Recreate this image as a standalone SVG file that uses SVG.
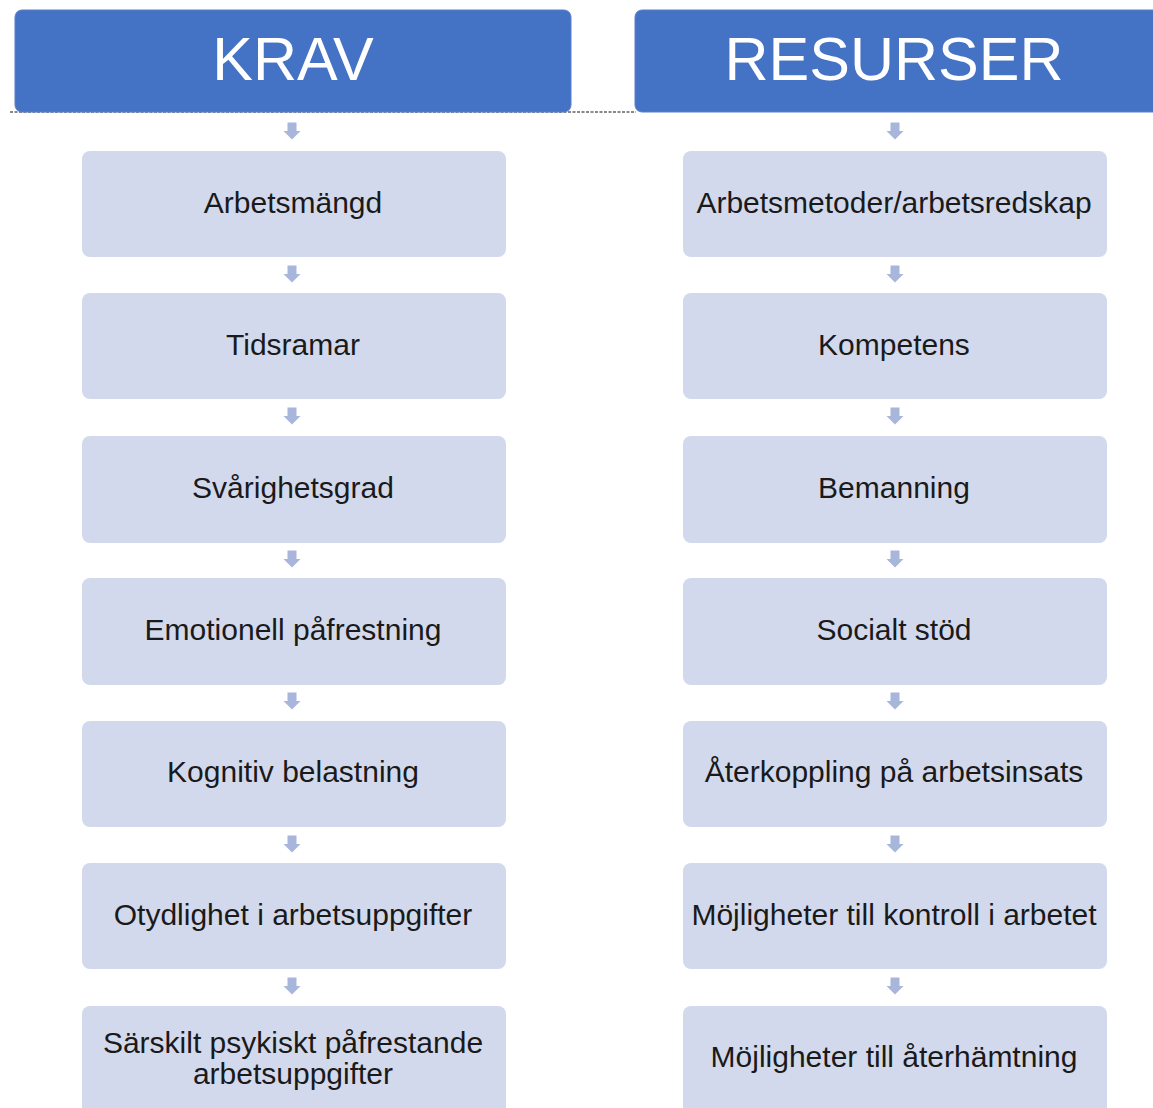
<svg xmlns="http://www.w3.org/2000/svg" width="1153" height="1108" viewBox="0 0 1153 1108">
<style>
.hdr{fill:#4472c4;stroke:#5b7fcb;stroke-width:1}
.hdrt{font-family:"Liberation Sans",Arial,sans-serif;font-size:61px;fill:#fff;text-anchor:middle}
.box{fill:#d3d9ec}
.t{font-family:"Liberation Sans",Arial,sans-serif;font-size:30px;fill:#1a1a1a;text-anchor:middle}
.arr{fill:#a9b6dc}
</style>
<defs>
<path id="a" d="M-4.5,-8.5 H4.5 V0 H8.5 L0,8.5 L-8.5,0 H-4.5 Z"/>
</defs>
<rect width="1153" height="1108" fill="#fff"/>
<g id="connectors">
<line x1="10" y1="112" x2="636" y2="112" stroke="#888" stroke-width="2" stroke-dasharray="3,1.5"/>
<g class="arr">
<use href="#a" x="292" y="131"/><use href="#a" x="292" y="274"/><use href="#a" x="292" y="416"/><use href="#a" x="292" y="559"/><use href="#a" x="292" y="701"/><use href="#a" x="292" y="844"/><use href="#a" x="292" y="986"/>
<use href="#a" x="895" y="131"/><use href="#a" x="895" y="274"/><use href="#a" x="895" y="416"/><use href="#a" x="895" y="559"/><use href="#a" x="895" y="701"/><use href="#a" x="895" y="844"/><use href="#a" x="895" y="986"/>
</g>
</g>
<g id="krav"><rect class="hdr" x="15" y="10" width="556" height="102" rx="7"/><text class="hdrt" x="293" y="80">KRAV</text></g>
<g id="resurser"><rect class="hdr" x="635" y="10" width="530" height="102" rx="7"/><text class="hdrt" x="894" y="80">RESURSER</text></g>
<g id="k1"><rect class="box" x="82" y="151" width="424" height="106" rx="8"/><text class="t" x="293" y="213">Arbetsmängd</text></g>
<g id="k2"><rect class="box" x="82" y="293" width="424" height="106" rx="8"/><text class="t" x="293" y="355">Tidsramar</text></g>
<g id="k3"><rect class="box" x="82" y="436" width="424" height="107" rx="8"/><text class="t" x="293" y="498">Svårighetsgrad</text></g>
<g id="k4"><rect class="box" x="82" y="578" width="424" height="107" rx="8"/><text class="t" x="293" y="640">Emotionell påfrestning</text></g>
<g id="k5"><rect class="box" x="82" y="721" width="424" height="106" rx="8"/><text class="t" x="293" y="782">Kognitiv belastning</text></g>
<g id="k6"><rect class="box" x="82" y="863" width="424" height="106" rx="8"/><text class="t" x="293" y="925">Otydlighet i arbetsuppgifter</text></g>
<g id="k7"><rect class="box" x="82" y="1006" width="424" height="110" rx="8"/><text class="t" x="293" y="1053">Särskilt psykiskt påfrestande</text><text class="t" x="293" y="1084">arbetsuppgifter</text></g>
<g id="r1"><rect class="box" x="683" y="151" width="424" height="106" rx="8"/><text class="t" x="894" y="213">Arbetsmetoder/arbetsredskap</text></g>
<g id="r2"><rect class="box" x="683" y="293" width="424" height="106" rx="8"/><text class="t" x="894" y="355">Kompetens</text></g>
<g id="r3"><rect class="box" x="683" y="436" width="424" height="107" rx="8"/><text class="t" x="894" y="498">Bemanning</text></g>
<g id="r4"><rect class="box" x="683" y="578" width="424" height="107" rx="8"/><text class="t" x="894" y="640">Socialt stöd</text></g>
<g id="r5"><rect class="box" x="683" y="721" width="424" height="106" rx="8"/><text class="t" x="894" y="782">Återkoppling på arbetsinsats</text></g>
<g id="r6"><rect class="box" x="683" y="863" width="424" height="106" rx="8"/><text class="t" x="894" y="925">Möjligheter till kontroll i arbetet</text></g>
<g id="r7"><rect class="box" x="683" y="1006" width="424" height="110" rx="8"/><text class="t" x="894" y="1067">Möjligheter till återhämtning</text></g>
</svg>
